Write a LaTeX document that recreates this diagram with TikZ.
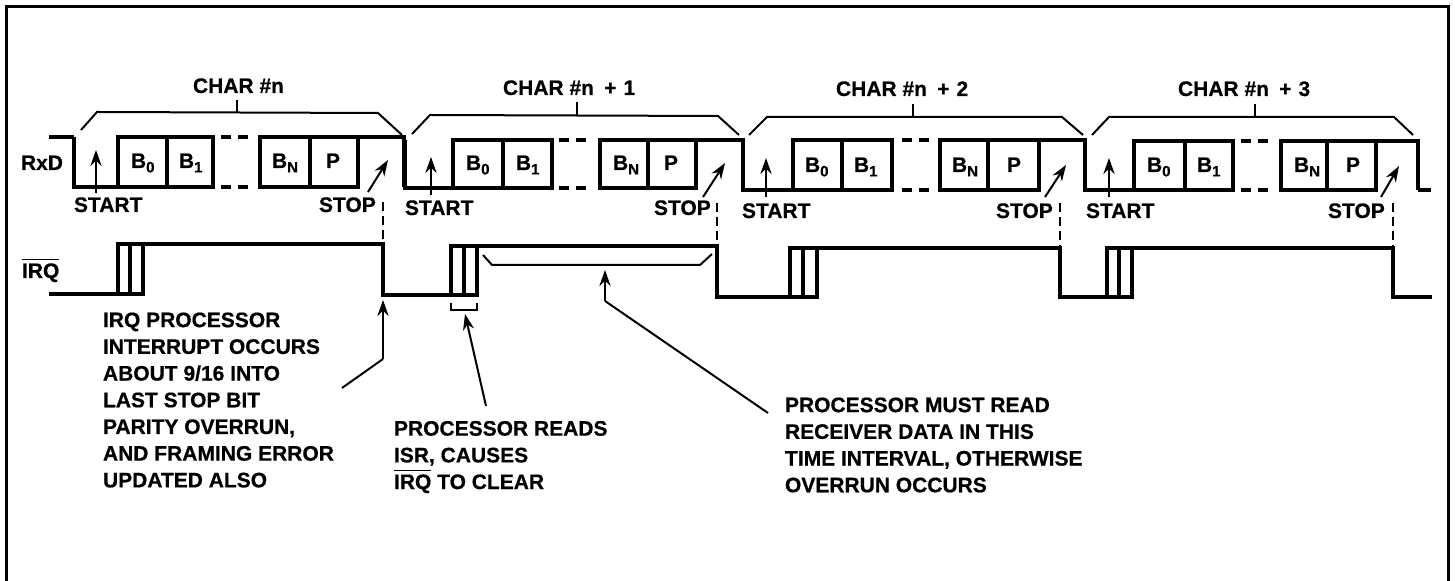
\documentclass[tikz,border=0pt]{standalone}
\usepackage{fontspec}
\setmainfont{Liberation Sans}[BoldFont={Liberation Sans Bold},BoldFeatures={FakeBold=0.6}]
\usetikzlibrary{arrows.meta}
\newcommand\ovl[1]{\leavevmode\vbox{\hrule height .7pt \kern 1.7pt \hbox{#1}}}
\newcommand\bsub[1]{B\raisebox{-2.2pt}{\fontsize{7.5}{8}\selectfont #1}}
\newcommand\pl{\hspace{2.2pt} + \hspace{0.6pt}}
\tikzset{
  txt/.style={inner sep=0pt,outer sep=0pt,font=\fontsize{10.5}{13.35}\selectfont\bfseries,text=black},
  lab/.style={txt,anchor=base west},
  blk/.style={txt,anchor=north west,align=left},
  sig/.style={line width=1.7pt,line join=miter,line cap=butt},
  brc/.style={line width=1pt},
  frm/.style={line width=1.5pt},
  dsh/.style={line width=0.9pt,dash pattern=on 4.5pt off 2.5pt},
  arr/.style={line width=1pt,-{Stealth[length=8pt,width=5.6pt]}},
  arl/.style={line width=1pt},
}
\begin{document}
\begin{tikzpicture}[x=0.5pt,y=-0.5pt]
\path[use as bounding box] (0,0) rectangle (1455,581);
\draw[frm] (6,581) -- (6,7) -- (1448,7) -- (1448,581);
% signal names
\node[lab] (rxd) at (21,170) {RxD};
\node[lab] (irq) at (22,278) {\ovl{IRQ}};
% RxD lead-in
\draw[sig] (49,137) -- (74,137);
% characters: number/fall/hi/lo/a/b/c/dash from/dash to/d/e/f/next fall
\foreach \n/\fa/\hi/\lo/\a/\b/\c/\dl/\dr/\d/\e/\f/\g in {
  1/74/137/187/118/167/213/221/250/260/310/358/404,
  2/405/140/188/453/503/552/559/592/600/648/696/743,
  3/743/140/190/793/842/892/902/930/940/988/1039/1085,
  4/1085/141/190/1134/1185/1233/1241/1272/1281/1327/1376/1418}{
  \draw[sig] (\fa,\hi) -- (\fa,\lo) -- (\c,\lo) -- (\c,\hi) -- (\a,\hi) -- (\a,\lo);
  \draw[sig] (\b,\hi) -- (\b,\lo);
  \draw[sig] (\g,\lo) -- (\g,\hi) -- (\d,\hi) -- (\d,\lo) -- (\f,\lo) -- (\f,\hi);
  \draw[sig] (\e,\hi) -- (\e,\lo);
  \draw[sig,dash pattern=on 5pt off 3.5pt] (\dl,\hi) -- (\dr,\hi);
  \draw[sig,dash pattern=on 5pt off 3.5pt] (\dl,\lo) -- (\dr,\lo);
}
% RxD tail
\draw[sig] (1418,190) -- (1431,190);
% bit labels
\node[lab] (b01) at (131,168) {\bsub{0}};
\node[lab] (b11) at (179,168) {\bsub{1}};
\node[lab] (bn1) at (272,168) {\bsub{N}};
\node[lab] (p1) at (326,168) {P};
\node[lab] (b02) at (466,170) {\bsub{0}};
\node[lab] (b12) at (516,170) {\bsub{1}};
\node[lab] (bn2) at (613,170) {\bsub{N}};
\node[lab] (p2) at (664,170) {P};
\node[lab] (b03) at (805,172) {\bsub{0}};
\node[lab] (b13) at (854,172) {\bsub{1}};
\node[lab] (bn3) at (952,172) {\bsub{N}};
\node[lab] (p3) at (1007,172) {P};
\node[lab] (b04) at (1147,172) {\bsub{0}};
\node[lab] (b14) at (1197,172) {\bsub{1}};
\node[lab] (bn4) at (1294,172) {\bsub{N}};
\node[lab] (p4) at (1346,172) {P};
% char labels with braces
\node[lab] (c1) at (193,93) {CHAR \#n};
\node[lab] (c2) at (503,95) {CHAR \#n\pl 1};
\node[lab] (c3) at (836,96) {CHAR \#n\pl 2};
\node[lab] (c4) at (1178,96) {CHAR \#n\pl 3};
\draw[brc] (81,130) -- (97,112) -- (378,113) -- (402,135);
\draw[brc] (237,100) -- (237,113);
\draw[brc] (412,134) -- (430,115) -- (718,116) -- (739,135);
\draw[brc] (577,102) -- (577,115);
\draw[brc] (749,135) -- (767,117) -- (1062,117) -- (1083,135);
\draw[brc] (913,104) -- (913,117);
\draw[brc] (1092,135) -- (1109,117) -- (1394,117) -- (1413,135);
\draw[brc] (1255,104) -- (1255,117);
% START / STOP
\node[lab] (st1) at (74,212) {START};
\node[lab] (sp1) at (319,212) {STOP};
\node[lab] (st2) at (405,215) {START};
\node[lab] (sp2) at (654,215) {STOP};
\node[lab] (st3) at (742,218) {START};
\node[lab] (sp3) at (996,218) {STOP};
\node[lab] (st4) at (1086,218) {START};
\node[lab] (sp4) at (1328,218) {STOP};
\foreach \x/\t/\b/\sx/\sy/\ex/\ey in {
  96/150/193/368/192/388/160,
  431/157/195/703/197/725/163,
  766/158/197/1045/197/1066/165,
  1109/158/197/1381/197/1399/166}{
  \draw[arr] (\x,\b) -- (\x,\t);
  \draw[arr] (\sx,\sy) -- (\ex,\ey);
}
% IRQ waveform
\draw[sig] (49,294) -- (118,294) -- (118,244) -- (143,244) -- (143,294) -- (118,294);
\draw[sig] (130,244) -- (130,294);
\draw[sig] (143,244) -- (383,244) -- (383,295) -- (451,295) -- (451,246) -- (477,246) -- (477,295) -- (451,295);
\draw[sig] (464,246) -- (464,295);
\draw[sig] (477,246) -- (717,246) -- (717,297) -- (790,297) -- (790,248) -- (817,248) -- (817,297) -- (790,297);
\draw[sig] (803,248) -- (803,297);
\draw[sig] (817,248) -- (1060,248) -- (1060,297) -- (1107,297) -- (1107,248) -- (1132,248) -- (1132,297) -- (1107,297);
\draw[sig] (1119,248) -- (1119,297);
\draw[sig] (1132,248) -- (1393,248) -- (1393,297) -- (1432,297);
% dashed STOP drops
\draw[dsh] (383,202) -- (383,244);
\draw[dsh] (717,203) -- (717,246);
\draw[dsh] (1060,203) -- (1060,248);
\draw[dsh] (1393,203) -- (1393,248);
% interval marks
\draw[brc] (451,303) -- (451,310) -- (477,310) -- (477,303);
\draw[brc] (483,255) -- (492,265) -- (700,265) -- (712,254);
% notes
\node[blk] (n1) at (103,312.5) {IRQ PROCESSOR\\INTERRUPT OCCURS\\ABOUT 9/16 INTO\\LAST STOP BIT\\PARITY OVERRUN,\\AND FRAMING ERROR\\UPDATED ALSO};
\node[blk] (n2) at (394,421) {PROCESSOR READS\\ISR, CAUSES\\\ovl{IRQ} TO CLEAR};
\node[blk] (n3) at (785,397.5) {PROCESSOR MUST READ\\RECEIVER DATA IN THIS\\TIME INTERVAL, OTHERWISE\\OVERRUN OCCURS};
% leaders
\coordinate (l1a) at (342,388);
\coordinate (l1b) at (383,359);
\coordinate (l1c) at (383,300);
\draw[arl] (l1a) -- (l1b);
\draw[arr] (l1b) -- (l1c);
\coordinate (l2a) at (486,406);
\coordinate (l2c) at (465,314);
\draw[arr] (l2a) -- (l2c);
\coordinate (l3a) at (768,413);
\coordinate (l3b) at (605,301);
\coordinate (l3c) at (605,270);
\draw[arl] (l3a) -- (l3b);
\draw[arr] (l3b) -- (l3c);
\end{tikzpicture}
\end{document}
